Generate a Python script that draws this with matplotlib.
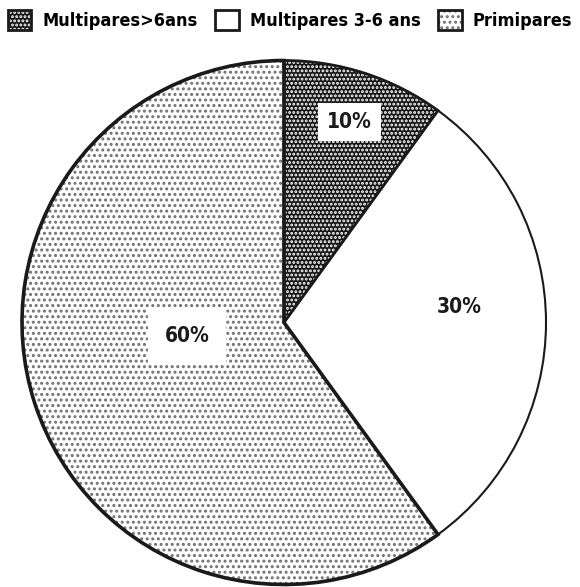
import numpy as np
import matplotlib as mpl
import matplotlib.pyplot as plt
from matplotlib.patches import Wedge, Patch
from matplotlib.legend_handler import HandlerTuple

# data
categories = ['Multipares>6ans', 'Multipares 3-6 ans', 'Primipares']
shares = [10, 30, 60]

# styles
face_cols = ['#151515', 'white', 'white']
hatch_cols = ['white', 'white', '#707070']
hatches = ['....', '', '...']
edge_lw = [2.0, 1.5, 2.6]
# label placement (radius, angle in deg) and box padding (None = no box)
label_pos = [(0.805, 72), (0.67, 5), (0.374, 188)]
label_pad = [6.5, None, 12]

plt.rcParams['font.family'] = 'DejaVu Sans'
plt.rcParams['font.stretch'] = 'condensed'
plt.rcParams['font.weight'] = 'bold'
plt.rcParams['hatch.linewidth'] = 1.4

fig = plt.figure(figsize=(5.8, 5.87), dpi=100)
ax = fig.add_axes([0, 0, 1, 1])

wedges, texts = ax.pie(shares, startangle=90, counterclock=False, radius=1,
                       wedgeprops=dict(linewidth=0))
ax.set_aspect('auto')
ax.set_xlim(-284 / 262, (580 - 284) / 262)
ax.set_ylim(-(587 - 322.5) / 262, 322.5 / 262)
ax.axis('off')

for i, w in enumerate(wedges):
    w.set_facecolor(face_cols[i])
    w.set_edgecolor(hatch_cols[i])
    w.set_hatch(hatches[i])
    w.set_linewidth(0)
    ax.add_patch(Wedge(w.center, w.r, w.theta1, w.theta2, fill=False,
                       edgecolor='#1a1a1a', linewidth=edge_lw[i], zorder=3))
    r, a = label_pos[i]
    bbox = None
    if label_pad[i] is not None:
        bbox = dict(facecolor='white', edgecolor='none', pad=label_pad[i])
    ax.text(r * np.cos(np.radians(a)), r * np.sin(np.radians(a)), f'{shares[i]}%',
            ha='center', va='center', fontsize=15, color='#1a1a1a', bbox=bbox, zorder=4)

handles = []
for i in range(3):
    fill = Patch(facecolor=face_cols[i], edgecolor=hatch_cols[i], hatch=hatches[i], linewidth=0)
    border = Patch(facecolor='none', edgecolor='#1a1a1a', linewidth=2)
    handles.append((fill, border))

fig.legend(handles, categories, loc='center', bbox_to_anchor=(0.5, 1 - 20 / 587), ncol=3,
           frameon=False, fontsize=13, handlelength=1.3, handleheight=1.3,
           handletextpad=0.6, columnspacing=1.0, borderaxespad=0,
           handler_map={tuple: HandlerTuple(ndivide=1, pad=0)})

fig.savefig('out.png', dpi=100)
